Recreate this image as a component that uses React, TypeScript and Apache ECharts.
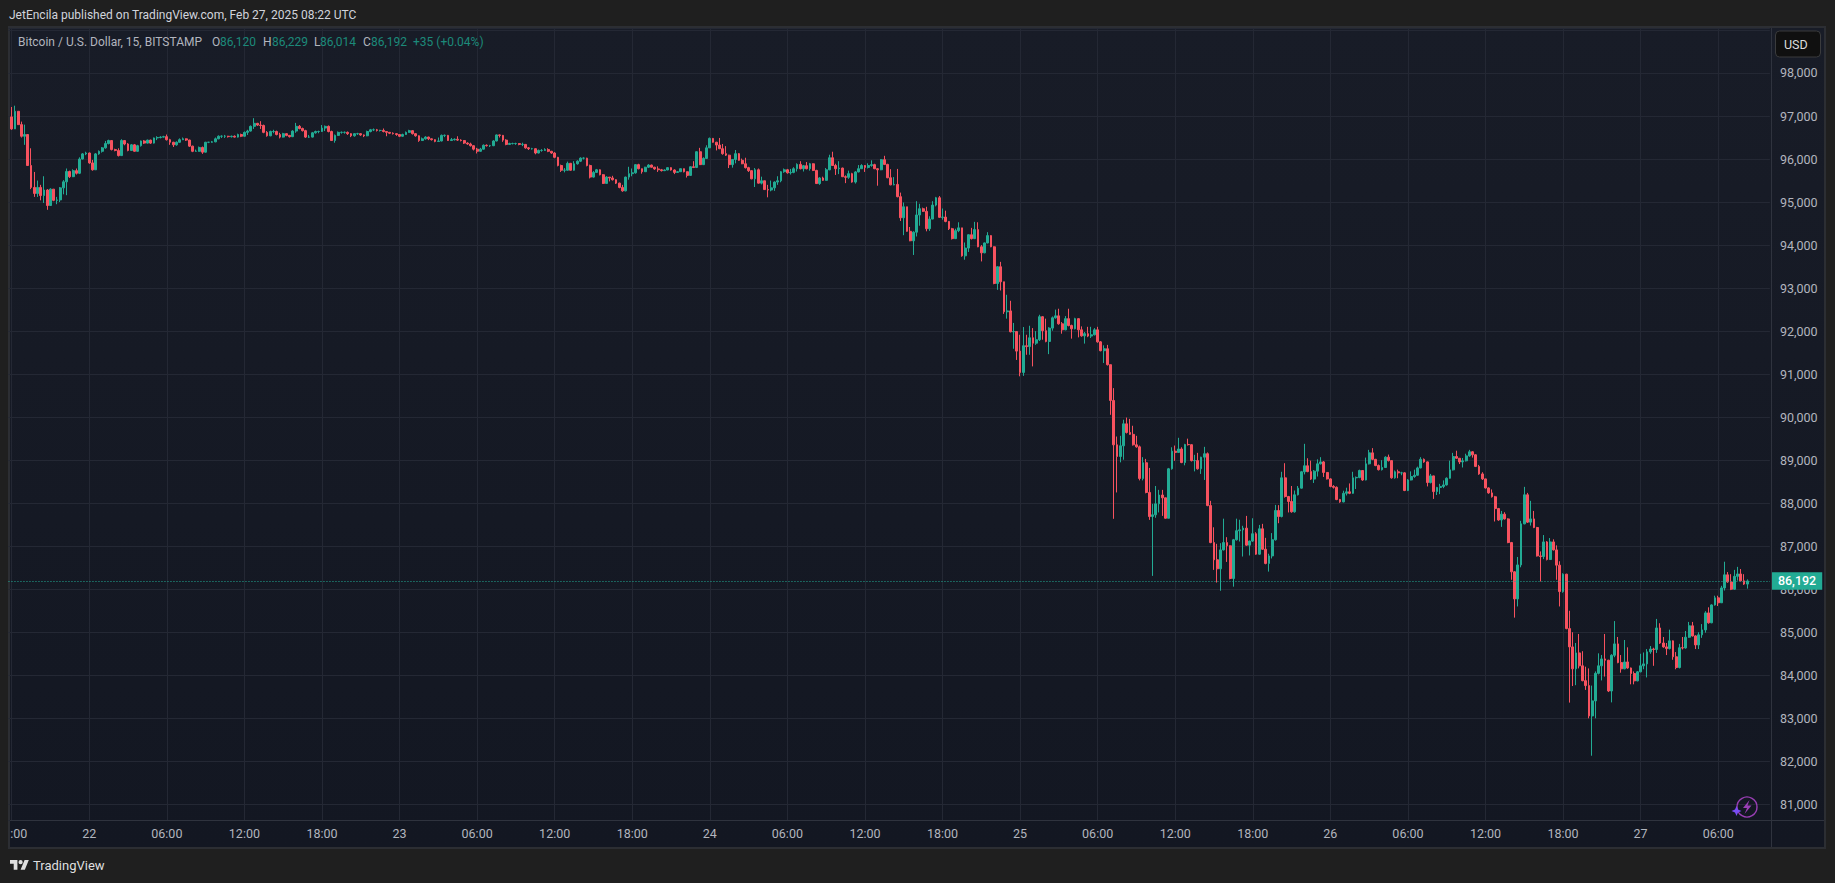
import React, { useEffect, useRef } from "react";
import * as echarts from "echarts";

// Each bar is [close, low, high] in USD, 15-minute bars; a bar opens at the previous close.
const firstOpen = 96980;
const feb21: number[][] = [
[96700,96680,97210],[97110,96800,97240],[96800,96790,97110],[96530,96500,96870],[96570,96330,96800],[95850,95840,96560],[95340,95300,96250],[95200,95120,95700],
[95340,95120,95500],[95150,95040,95400],[95280,94980,95600],[94920,94820,95300],[95300,94950,95320],[95040,95020,95300],[95050,94950,95120],[95330,95000,95350],
[95470,95180,95510],[95710,95160,95780],[95590,95560,95730],[95730,95580,95760],[95670,95640,95780],[96000,95650,96040],[96120,95990,96140],[96140,96090,96170],
];
const feb22: number[][] = [
[95910,95890,96150],[95750,95730,95980],[96120,95750,96140],[96180,96100,96200],[96260,96150,96280],[96360,96240,96420],[96430,96340,96450],[96220,96200,96440],
[96200,96180,96240],[96080,96060,96250],[96430,96070,96460],[96350,96320,96440],[96200,96180,96370],[96330,96190,96350],[96180,96170,96350],[96310,96170,96330],
[96420,96290,96430],[96370,96350,96440],[96440,96360,96450],[96370,96350,96450],[96490,96360,96500],[96500,96440,96530],[96510,96480,96530],[96520,96500,96540],
[96450,96430,96570],[96390,96330,96470],[96330,96280,96400],[96390,96310,96410],[96450,96380,96480],[96470,96440,96500],[96440,96420,96480],[96300,96280,96450],
[96180,96160,96310],[96180,96170,96220],[96270,96170,96290],[96160,96120,96290],[96390,96150,96400],[96390,96370,96400],[96400,96380,96420],[96470,96390,96500],
[96530,96460,96550],[96530,96490,96550],[96530,96490,96560],[96520,96500,96540],[96530,96500,96545],[96510,96500,96550],[96570,96500,96590],[96530,96510,96590],
[96620,96520,96640],[96650,96560,96680],[96760,96640,96780],[96830,96700,96950],[96790,96770,96840],[96780,96700,96880],[96620,96600,96800],[96540,96520,96650],
[96640,96530,96660],[96640,96600,96680],[96570,96550,96660],[96510,96480,96610],[96590,96500,96610],[96550,96530,96600],[96520,96500,96560],[96650,96510,96670],
[96760,96610,96840],[96710,96690,96790],[96660,96640,96730],[96510,96490,96680],[96510,96490,96560],[96610,96500,96630],[96640,96590,96660],[96640,96600,96660],
[96720,96630,96790],[96760,96650,96780],[96640,96620,96780],[96430,96420,96660],[96550,96380,96570],[96620,96540,96640],[96620,96590,96640],[96620,96590,96640],
[96590,96560,96640],[96540,96510,96600],[96590,96520,96600],[96590,96560,96610],[96560,96540,96600],[96540,96510,96570],[96640,96530,96660],[96680,96620,96700],
[96680,96650,96710],[96665,96640,96700],[96665,96640,96680],[96640,96620,96710],[96620,96530,96650],[96600,96580,96630],[96590,96570,96620],[96570,96540,96600],
];
const feb23: number[][] = [
[96530,96510,96580],[96570,96520,96590],[96620,96560,96640],[96660,96610,96680],[96590,96570,96670],[96540,96520,96600],[96430,96400,96550],[96470,96420,96500],
[96510,96450,96530],[96470,96440,96520],[96450,96430,96480],[96410,96390,96460],[96420,96400,96500],[96550,96410,96570],[96550,96510,96570],[96430,96420,96560],
[96450,96420,96490],[96460,96430,96480],[96440,96420,96530],[96430,96410,96460],[96370,96350,96440],[96350,96330,96390],[96310,96290,96380],[96230,96200,96320],
[96180,96130,96260],[96230,96170,96260],[96320,96220,96340],[96310,96290,96340],[96310,96280,96330],[96420,96300,96440],[96560,96410,96570],[96550,96500,96570],
[96440,96400,96560],[96340,96320,96460],[96360,96330,96380],[96360,96340,96380],[96360,96330,96380],[96340,96320,96370],[96340,96300,96380],[96260,96240,96350],
[96240,96210,96280],[96240,96220,96260],[96140,96110,96250],[96200,96130,96220],[96200,96170,96230],[96220,96190,96250],[96180,96160,96250],[96140,96120,96190],
[96040,96020,96160],[95850,95830,96050],[95740,95700,95870],[95740,95690,95790],[95900,95730,95940],[95740,95730,95910],[95890,95730,95950],[95950,95870,95970],
[96020,95930,96040],[96020,95990,96040],[95850,95830,96030],[95580,95550,95870],[95690,95570,95720],[95750,95680,95770],[95636,95620,95760],[95434,95420,95650],
[95580,95430,95600],[95560,95480,95580],[95520,95500,95610],[95440,95420,95530],[95340,95320,95450],[95260,95240,95400],[95580,95250,95590],[95660,95520,95820],
[95680,95600,95780],[95870,95660,95880],[95775,95760,95890],[95705,95660,95780],[95810,95700,95820],[95860,95790,95880],[95810,95800,95870],[95770,95750,95820],
[95750,95700,95830],[95730,95710,95770],[95745,95720,95760],[95800,95740,95810],[95745,95730,95810],[95690,95650,95760],[95705,95680,95720],[95775,95700,95780],
[95705,95690,95780],[95620,95570,95710],[95820,95610,95830],[95805,95790,95950],[96170,95790,96180],[95870,95860,96260],[96015,95860,96040],[96260,96000,96320],
];
const feb24: number[][] = [
[96480,96260,96500],[96390,96380,96490],[96325,96200,96400],[96240,96230,96490],[96125,96100,96350],[96090,96070,96300],[95870,95790,96100],[95990,95800,96000],
[96125,95900,96210],[95970,95960,96140],[95890,95880,96010],[95800,95780,96030],[95730,95700,95820],[95540,95530,95740],[95750,95350,95790],[95440,95430,95780],
[95495,95410,95590],[95290,95280,95480],[95280,95110,95400],[95330,95250,95500],[95465,95260,95480],[95495,95400,95600],[95705,95460,95720],[95750,95680,95780],
[95680,95660,95770],[95690,95640,95770],[95775,95670,95810],[95875,95710,95900],[95775,95760,95950],[95845,95710,95860],[95775,95760,95930],[95890,95730,95910],
[95735,95720,95900],[95430,95420,95750],[95560,95400,95580],[95505,95490,95590],[95750,95500,95790],[96030,95740,96100],[95850,95840,96170],[95775,95630,95890],
[95790,95650,95950],[95590,95580,95800],[95575,95440,95620],[95660,95540,95730],[95465,95450,95680],[95700,95430,95720],[95775,95690,95860],[95850,95770,95880],
[95805,95700,95860],[95850,95780,95900],[95870,95820,95970],[95775,95765,95890],[95750,95380,95790],[95985,95740,96000],[95875,95860,96075],[95565,95555,95890],
[95400,95390,95765],[95410,95390,95580],[95125,95110,95770],[94635,94560,95220],[94890,94230,94990],[94320,94310,94850],[94100,94090,94420],[94300,93770,94320],
[94700,94200,95020],[94845,94450,94960],[94785,94770,94870],[94380,94320,94890],[94605,94330,94670],[94930,94600,95020],[95100,94900,95120],[94645,94630,95140],
[94650,94590,94850],[94550,94530,94800],[94380,94350,94560],[94150,94130,94400],[94335,94140,94380],[94400,94300,94530],[93750,93730,94400],[93930,93660,94060],
[94240,93840,94250],[94150,94130,94400],[94360,94140,94540],[93960,93950,94530],[93820,93620,94000],[94050,93810,94060],[94220,94040,94300],[93960,93950,94230],
[93108,93090,93970],[93496,92960,93510],[93147,92945,93610],[92450,92400,93120],[92470,92290,92845],[91985,91970,92705],[91990,91590,92190],[91535,91330,92000],
];
const feb25: number[][] = [
[91040,90950,91915],[91660,90960,92095],[91640,91450,91915],[91845,91450,92125],[91720,91180,92070],[91800,91680,92000],[92335,91770,92380],[92010,91800,92350],
[91760,91740,92290],[92070,91465,92090],[92310,92010,92340],[92355,92290,92500],[92170,92150,92520],[92030,91940,92210],[92290,92020,92350],[92130,92110,92520],
[92055,91825,92150],[92290,92040,92310],[92030,91855,92300],[91890,91870,92110],[91940,91710,91980],[91885,91860,92100],[91915,91840,92100],[92030,91900,92070],
[91750,91730,92100],[91545,91530,91770],[91590,91260,91670],[91220,91200,91680],[90388,90055,91220],[89357,87637,90675],[89086,88250,89550],[89334,88950,89566],
[89845,89010,89940],[89644,89620,89990],[89600,89590,89960],[89357,89340,89800],[89310,89290,89566],[88575,88530,89340],[88940,88530,89070],[88250,88230,89030],
[87690,87613,88820],[87730,86310,87985],[87985,87660,88400],[88190,87785,88310],[88125,87705,88310],[87650,87640,88130],[88800,87700,88820],[89210,88780,89300],
[89180,88985,89340],[89260,89170,89520],[88945,88930,89300],[89365,88880,89380],[89360,89340,89500],[88990,88970,89370],[88990,88740,89125],[88800,88780,89170],
[89070,88680,89080],[89150,88540,89310],[87945,87930,89180],[87085,87070,88055],[86685,86450,87440],[86475,86155,87055],[86915,85965,87070],[87085,86900,87640],
[87010,86635,87210],[86250,86230,87020],[87150,86060,87170],[87360,87130,87640],[87380,87110,87615],[87420,86760,87475],[87025,87010,87705],[87120,86785,87130],
[87290,87100,87650],[86815,86800,87325],[87405,86800,87495],[86930,86915,87520],[86600,86580,87195],[86775,86410,86825],[87150,86715,87305],[87830,87130,87960],
[87690,87535,87955],[88590,87670,88730],[88155,88130,88930],[88040,87785,88170],[87800,87780,88400],[88195,87780,88295],[88350,88180,88400],[88730,88340,88750],
[88870,88670,89380],[88735,88720,89045],[88560,88540,88990],[88745,88470,88770],[88915,88620,89020],[88960,88900,89070],[88715,88610,88980],[88565,88550,88720],
];
const feb26: number[][] = [
[88390,88370,88580],[88370,88340,88420],[88085,88070,88390],[88030,88010,88100],[88230,88020,88290],[88265,88180,88360],[88230,88210,88460],[88590,88220,88730],
[88600,88330,88620],[88760,88580,88780],[88540,88520,88770],[88915,88530,89060],[89170,88900,89240],[89020,89000,89280],[88875,88860,89030],[88780,88760,88900],
[88830,88760,89000],[89070,88820,89090],[88990,88970,89130],[88590,88570,89000],[88730,88570,88760],[88705,88580,88780],[88705,88650,88730],[88295,88280,88720],
[88540,88280,88560],[88620,88530,88740],[88650,88590,88780],[88820,88640,88850],[89020,88810,89070],[88960,88940,89040],[88480,88390,88970],[88635,88460,88680],
[88270,88100,88640],[88365,88190,88380],[88390,88210,88450],[88425,88350,88530],[88580,88410,88600],[88775,88570,88990],[89085,88760,89170],[89045,89030,89220],
[88960,88910,89050],[88985,88830,89050],[89100,88970,89150],[89195,89080,89240],[89125,89060,89210],[88855,88840,89140],[88680,88660,88890],[88565,88540,88720],
[88355,88340,88570],[88240,88220,88370],[88150,88130,88320],[87875,87575,88170],[87610,87590,87890],[87745,87450,87820],[87635,87620,87790],[87085,87070,87650],
[86405,86220,87100],[85775,85340,86420],[86565,85600,86750],[87520,86510,87590],[88195,87510,88380],[87560,87540,88240],[87635,87480,88055],[87435,87420,87820],
[86775,86760,87450],[86760,86180,86880],[87100,86700,87260],[86690,86670,87120],[87100,86680,87190],[86915,86900,87160],[86560,86220,87020],[85945,85600,86650],
[86350,85920,86370],[85085,85070,86360],[84660,83365,85500],[84150,83750,85000],[84520,83770,84750],[84220,84160,84960],[83875,83860,84560],[83760,83660,84200],
[83055,83000,84160],[83405,82130,83760],[84045,83000,84090],[84220,84020,84510],[84380,83880,84470],[84350,83970,84960],[83635,83610,84360],[84465,83370,84490],
[84730,84420,85260],[84295,84280,84890],[84150,84060,84470],[84310,84140,84820],[84170,84150,84650],[84040,83790,84180],[83870,83790,84090],[84080,83860,84100],
];
const feb27: number[][] = [
[84220,84070,84500],[84265,84140,84530],[84545,83950,84610],[84610,84500,84680],[84600,84220,84640],[85100,84520,85310],[84750,84730,85210],[84660,84640,84890],
[84620,84470,84750],[84800,84600,85060],[84430,84360,84810],[84180,84140,84540],[84640,84160,84730],[84635,84600,84890],[84885,84620,85030],[85150,84870,85240],
[84915,84900,85240],[84705,84610,84930],[84940,84610,85000],[85055,84870,85190],[85450,84990,85490],[85220,85200,85580],[85635,85210,85650],[85800,85620,85850],
[85685,85610,85850],[86030,85680,86080],[86335,85970,86640],[86170,86150,86400],[86000,85980,86350],[86300,85990,86450],[86355,86200,86520],[86195,86180,86470],
[86120,86100,86350],[86192,86014,86229],
];
const sessions = [feb21, feb22, feb23, feb24, feb25, feb26, feb27];

const hourLabels = ["18:00", "00", "06:00", "12:00"];
const dayLabels = ["22", "23", "24", "25", "26", "27"];
const priceTickMin = 81000;
const priceTickMax = 98000;
const lastPrice = 86192;
const legendQuote = ["86,120", "86,229", "86,014", "86,192"];

const UP = "#22ab94";
const DOWN = "#f7525f";
const GRID = "#242834";
const FRAME = "#2c2e33";
const AXIS = "#2f333e";
const TEXT = "#b2b5be";
const FONT = "Roboto, sans-serif";

const bars = sessions.flat();
const candles = bars.map((b, i) => {
  const open = i === 0 ? firstOpen : bars[i - 1][0];
  const close = b[0];
  return [open, close, Math.min(b[1], open, close), Math.max(b[2], open, close)];
});

const TRAILING = 7;
const slots = 1 + bars.length + TRAILING; // one empty slot before the first bar
const categories = Array.from({ length: slots }, (_, s) => {
  const i = s - 1;
  if (i < 0 || i % 24 !== 0) return "";
  const q = i / 24;
  if (q === 0) return hourLabels[0];
  if ((q - 1) % 4 === 0) return dayLabels[(q - 1) / 4];
  return ["00", "06:00", "12:00", "18:00"][(q - 1) % 4];
});
const isGridSlot = (s: number) => s >= 1 && (s - 1) % 24 === 0;

const TV_MARK = "M14 22H7V11H0V4h14v18zM28 22h-8l7.5-18h8L28 22zM24 8a4 4 0 1 1-8 0 4 4 0 0 1 8 0z";
echarts.graphic.registerShape("tvmark", echarts.graphic.extendPath(TV_MARK, {}) as any);

const txt = (x: number, y: number, text: string, fill = TEXT, extra: any = {}) => ({
  type: "text",
  x,
  y,
  z: 50,
  silent: true,
  style: { text, fill, font: `12px ${FONT}`, verticalAlign: "middle", align: "left", ...extra },
});

export default function App() {
  const ref = useRef<HTMLDivElement>(null);
  useEffect(() => {
    document.body.style.margin = "0";
    document.body.style.background = "#1f1f1f";
    const chart = echarts.init(ref.current!, undefined, { renderer: "svg" });
    chart.setOption({
      animation: false,
      backgroundColor: "#1f1f1f",
      grid: { left: 8.47, top: 28, width: 1761.44, height: 792, containLabel: false, outerBoundsMode: "none" },
      xAxis: {
        type: "category",
        data: categories,
        boundaryGap: false,
        axisLine: { show: false },
        axisTick: { show: false },
        axisLabel: {
          interval: (idx: number) => isGridSlot(idx),
          color: TEXT,
          fontFamily: FONT,
          fontSize: 12.5,
          margin: 7,
          hideOverlap: false,
        },
        splitLine: { show: true, interval: (idx: number) => isGridSlot(idx), lineStyle: { color: GRID, width: 1 } },
      },
      yAxis: {
        type: "value",
        position: "right",
        min: 80636,
        max: 99046,
        minInterval: 1000,
        maxInterval: 1000,
        scale: true,
        axisLine: { show: false },
        axisTick: { show: false },
        splitLine: { show: true, lineStyle: { color: GRID, width: 1 } },
        axisLabel: {
          color: TEXT,
          fontFamily: FONT,
          fontSize: 12.5,
          margin: 10,
          align: "left",
          formatter: (v: number) =>
            v % 1000 === 0 && v >= priceTickMin && v <= priceTickMax ? v.toLocaleString("en-US") : "",
        },
      },
      series: [
        {
          type: "candlestick",
          data: [[null, null, null, null] as any, ...candles],
          barWidth: 2.3,
          itemStyle: {
            color: UP,
            color0: DOWN,
            borderColor: UP,
            borderColor0: DOWN,
            borderColorDoji: UP,
            borderWidth: 1,
          },
          silent: true,
          markLine: {
            silent: true,
            symbol: "none",
            animation: false,
            data: [{ yAxis: lastPrice }],
            lineStyle: { color: UP, type: [1, 2], width: 1, opacity: 1 },
            label: {
              show: true,
              position: "end",
              distance: 2,
              formatter: () => lastPrice.toLocaleString("en-US"),
              color: "#ffffff",
              backgroundColor: UP,
              fontFamily: FONT,
              fontSize: 12.5,
              fontWeight: 500,
              padding: [2.5, 6, 2, 6],
            },
          },
        },
      ],
      graphic: [
        {
          type: "rect",
          z: -10,
          shape: { x: 9, y: 27, width: 1816, height: 821 },
          style: {
            stroke: FRAME,
            lineWidth: 2,
            fill: new echarts.graphic.LinearGradient(0, 0, 0, 1, [
              { offset: 0, color: "#181c27" },
              { offset: 1, color: "#131722" },
            ]),
          },
        },
        { type: "rect", z: 40, shape: { x: 0, y: 822, width: 8, height: 26 }, style: { fill: "#1f1f1f" } },
        { type: "rect", z: 40, shape: { x: 8, y: 822, width: 2, height: 26 }, style: { fill: FRAME } },
        { type: "line", z: 30, shape: { x1: 10, y1: 820.5, x2: 1824, y2: 820.5 }, style: { stroke: AXIS, lineWidth: 1 } },
        { type: "line", z: 30, shape: { x1: 1771.5, y1: 28, x2: 1771.5, y2: 847 }, style: { stroke: AXIS, lineWidth: 1 } },
        txt(9, 15, "JetEncila published on TradingView.com, Feb 27, 2025 08:22 UTC", "#d1d4dc"),
        txt(18, 42, "Bitcoin / U.S. Dollar, 15, BITSTAMP"),
        txt(212, 42, "O"),
        txt(220, 42, legendQuote[0], "#1c8a7a"),
        txt(263, 42, "H"),
        txt(272, 42, legendQuote[1], "#1c8a7a"),
        txt(314, 42, "L"),
        txt(320, 42, legendQuote[2], "#1c8a7a"),
        txt(363, 42, "C"),
        txt(371, 42, legendQuote[3], "#1c8a7a"),
        txt(413, 42, "+35 (+0.04%)", "#1c8a7a"),
        {
          type: "rect",
          z: 45,
          shape: { x: 1775.5, y: 31, width: 45, height: 26, r: 4 },
          style: { fill: "#101010", stroke: "#3a3b3d", lineWidth: 1 },
        },
        txt(1784, 44.5, "USD", "#dcdcdc", { font: `12.5px ${FONT}` }),
        { type: "tvmark", z: 50, x: 10, y: 858, scaleX: 0.53, scaleY: 0.53, style: { fill: "#dfdfdf" } },
        txt(33, 865.5, "TradingView", "#dfdfdf", { font: `13px ${FONT}` }),
        {
          type: "circle",
          z: 50,
          shape: { cx: 1747, cy: 807, r: 10 },
          style: { fill: "transparent", stroke: "#9a3fb5", lineWidth: 1.4 },
        },
        {
          type: "polygon",
          z: 50,
          shape: { points: [[1749.5, 800], [1743, 808], [1747, 808], [1744.5, 814], [1751.5, 805.5], [1747.5, 805.5]] },
          style: { fill: "#9a3fb5" },
        },
        {
          type: "polygon",
          z: 51,
          shape: { points: [[1736.5, 806], [1738, 809.5], [1741.5, 811], [1738, 812.5], [1736.5, 816], [1735, 812.5], [1731.5, 811], [1735, 809.5]] },
          style: { fill: "#7a4df5" },
        },
      ],
    });
    return () => chart.dispose();
  }, []);
  return <div ref={ref} style={{ position: "fixed", left: 0, top: 0, width: 1835, height: 883 }} />;
}
